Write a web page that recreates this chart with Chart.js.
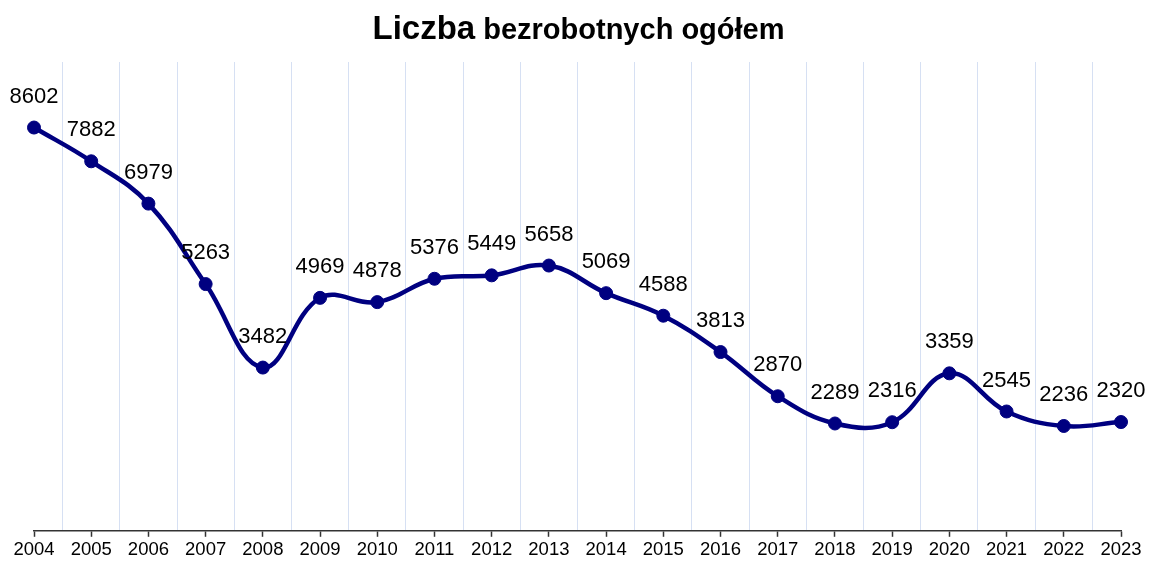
<!DOCTYPE html>
<html>
<head>
<meta charset="utf-8">
<script src="https://cdn.jsdelivr.net/npm/chart.js@4"></script>
<style>
  html, body { margin: 0; padding: 0; background: #fff; }
  #wrap { width: 1149px; height: 563px; }
</style>
</head>
<body>
<div id="wrap"><canvas id="chart"></canvas></div>
<script>
// dane wykresu
const years = ['2004', '2005', '2006', '2007', '2008', '2009', '2010', '2011', '2012', '2013',
  '2014', '2015', '2016', '2017', '2018', '2019', '2020', '2021', '2022', '2023'];
const unemployed = [8602, 7882, 6979, 5263, 3482, 4969, 4878, 5376, 5449, 5658,
  5069, 4588, 3813, 2870, 2289, 2316, 3359, 2545, 2236, 2320];
const titleParts = ['Liczba', ' bezrobotnych ogółem'];

const FONT = "'Liberation Sans', Arial, sans-serif";
Chart.defaults.font.family = FONT;
Chart.defaults.color = '#000';

// tytuł z dwoma rozmiarami czcionki
const twoPartTitle = {
  id: 'twoPartTitle',
  afterDraw(chart) {
    const ctx = chart.ctx;
    ctx.save();
    ctx.fillStyle = '#000';
    ctx.textBaseline = 'alphabetic';
    const f1 = 'bold 33px ' + FONT;
    const f2 = 'bold 29px ' + FONT;
    ctx.font = f1;
    const w1 = ctx.measureText(titleParts[0]).width;
    ctx.font = f2;
    const w2 = ctx.measureText(titleParts[1]).width;
    let x = chart.width / 2 + 4 - (w1 + w2) / 2;
    ctx.textAlign = 'left';
    ctx.font = f1;
    ctx.fillText(titleParts[0], x, 39);
    ctx.font = f2;
    ctx.fillText(titleParts[1], x + w1, 39);
    ctx.restore();
  }
};

// etykiety wartości nad punktami
const valueLabels = {
  id: 'valueLabels',
  afterDatasetsDraw(chart) {
    const ctx = chart.ctx;
    const meta = chart.getDatasetMeta(0);
    ctx.save();
    ctx.font = '22px ' + FONT;
    ctx.fillStyle = '#000';
    ctx.textAlign = 'center';
    ctx.textBaseline = 'middle';
    meta.data.forEach((pt, i) => {
      ctx.fillText(String(unemployed[i]), pt.x, pt.y - 31);
    });
    ctx.restore();
  }
};

new Chart(document.getElementById('chart'), {
  type: 'line',
  data: {
    labels: years,
    datasets: [{
      label: 'Liczba bezrobotnych ogółem',
      data: unemployed,
      borderColor: '#000080',
      backgroundColor: '#000080',
      borderWidth: 4.5,
      pointRadius: 6.5,
      pointBorderWidth: 1,
      pointHoverRadius: 6.5,
      tension: 0.4,
      fill: false,
      xAxisID: 'x'
    }]
  },
  options: {
    responsive: true,
    maintainAspectRatio: false,
    animation: false,
    layout: { padding: { left: 34, right: 28, top: 62, bottom: 0 } },
    scales: {
      x: {
        type: 'category',
        position: 'bottom',
        offset: false,
        grid: {
          drawOnChartArea: false,
          drawTicks: true,
          tickLength: 6,
          color: '#333',
          tickWidth: 1.5
        },
        border: { display: true, color: '#333', width: 1.5 },
        ticks: { font: { size: 18.5 }, color: '#000', padding: 2, maxRotation: 0, autoSkip: false }
      },
      // druga oś tylko dla pionowych linii siatki między latami
      xGrid: {
        type: 'category',
        labels: years,
        position: 'top',
        offset: false,
        grid: { offset: true, drawTicks: false, color: '#d6e0f3', lineWidth: 1 },
        border: { display: false },
        ticks: { display: false }
      },
      y: {
        display: false,
        min: 0,
        max: 10000
      }
    },
    plugins: {
      legend: { display: false },
      tooltip: { enabled: false },
      title: { display: false }
    }
  },
  plugins: [valueLabels, twoPartTitle]
});
</script>
</body>
</html>
